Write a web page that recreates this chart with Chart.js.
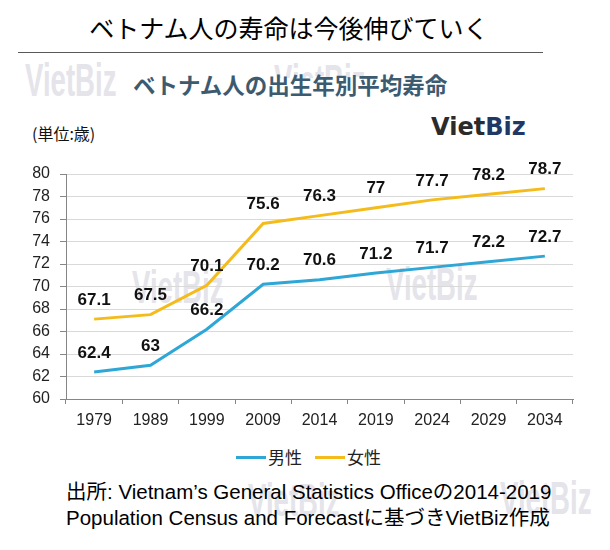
<!DOCTYPE html>
<html>
<head>
<meta charset="utf-8">
<script src="https://cdn.jsdelivr.net/npm/chart.js@4.4.1/dist/chart.umd.min.js"></script>
<style>
  body { margin: 0; background: #fff; }
  #wrap { position: relative; width: 610px; height: 550px; overflow: hidden; font-family: "Liberation Sans", "Noto Sans CJK JP", sans-serif; }
  .abs { position: absolute; white-space: nowrap; }
  .wm { position: absolute; font: bold 46px "Liberation Sans", Arial, sans-serif; color: #e4e4ea; transform: scaleX(0.6); transform-origin: 0 0; line-height: 1; white-space: nowrap; }
  #chart { position: absolute; left: 0; top: 140px; }
  #legend { position: absolute; top: 445px; left: 236px; display: flex; align-items: center; font: 17px "Noto Sans CJK JP", sans-serif; color: #222; line-height: 24px; }
  #legend .item { display: flex; align-items: center; margin-right: 13px; }
  #legend .swatch { width: 30px; height: 3px; margin-right: 2px; }
</style>
</head>
<body>
<div id="wrap">
  <!-- watermarks -->
  <div class="wm" style="left:25px; top:57px;">VietBiz</div>
  <div class="wm" style="left:274px; top:58px;">VietBiz</div>
  <div class="wm" style="left:132px; top:264px;">VietBiz</div>
  <div class="wm" style="left:386px; top:261px;">VietBiz</div>
  <div class="wm" style="left:248px; top:477px;">VietBiz</div>
  <div class="wm" style="left:500px; top:475px;">VietBiz</div>

  <div class="abs" style="left:0; width:578px; top:12px; text-align:center; font:25px 'Noto Sans CJK JP', sans-serif; line-height:30px; color:#000;">ベトナム人の寿命は今後伸びていく</div>
  <div class="abs" style="left:18px; top:52px; width:525px; height:1px; background:#595959;"></div>

  <div class="abs" style="left:120px; top:78px; width:350px; height:24px; background:#fff;"></div>
  <div class="abs" style="left:133px; top:70px; font:bold 22.5px 'Noto Sans CJK JP', sans-serif; line-height:28px; color:#3d5b70;">ベトナム人の出生年別平均寿命</div>

  <div class="abs" style="left:32px; top:122px; font:16px 'Noto Sans CJK JP', sans-serif; line-height:22px; color:#111;">(単位:歳)</div>
  <div class="abs" style="left:431px; top:113px; font:bold 24px 'DejaVu Sans', sans-serif; line-height:28px;"><span style="color:#2b2b2b">Viet</span><span style="color:#1f3864">Biz</span></div>

  <canvas id="chart" width="610" height="300"></canvas>
  <div id="legend"></div>

  <div class="abs" style="left:66px; top:479px; font:20.5px 'Liberation Sans', 'Noto Sans CJK JP', sans-serif; line-height:26px; color:#000;">出所: Vietnam’s General Statistics Officeの2014-2019<br>Population Census and Forecastに基づきVietBiz作成</div>
</div>

<script>
// データ
const years = ['1979', '1989', '1999', '2009', '2014', '2019', '2024', '2029', '2034'];
const male = [62.4, 63, 66.2, 70.2, 70.6, 71.2, 71.7, 72.2, 72.7];
const female = [67.1, 67.5, 70.1, 75.6, 76.3, 77, 77.7, 78.2, 78.7];
const yMin = 60, yMax = 80, yStep = 2;

// 値ラベル
const valueLabels = {
  id: 'valueLabels',
  afterDatasetsDraw(chart) {
    const ctx = chart.ctx;
    ctx.save();
    ctx.font = 'bold 17px "Liberation Sans", Arial, sans-serif';
    ctx.fillStyle = '#111';
    ctx.textAlign = 'center';
    ctx.textBaseline = 'middle';
    chart.data.datasets.forEach((ds, i) => {
      chart.getDatasetMeta(i).data.forEach((pt, j) => {
        ctx.fillText(String(ds.data[j]), pt.x, pt.y - 19);
      });
    });
    ctx.restore();
  }
};

const ctx = document.getElementById('chart').getContext('2d');
const chart = new Chart(ctx, {
  type: 'line',
  data: {
    labels: years,
    datasets: [
      { label: '男性', data: male, borderColor: '#2ea7d7', backgroundColor: '#2ea7d7' },
      { label: '女性', data: female, borderColor: '#f4bb1a', backgroundColor: '#f4bb1a' }
    ]
  },
  options: {
    responsive: false,
    devicePixelRatio: 1,
    animation: false,
    layout: { padding: { top: 34, right: 37, left: 0, bottom: 0 } },
    elements: {
      line: { borderWidth: 3, tension: 0 },
      point: { radius: 0 }
    },
    plugins: { legend: { display: false }, tooltip: { enabled: false } },
    scales: {
      x: {
        offset: true,
        grid: { drawOnChartArea: false, offset: true, tickLength: 5, tickColor: '#868686' },
        border: { color: '#868686' },
        ticks: { font: { family: '"Liberation Sans", Arial', size: 16 }, color: '#222', padding: 7, maxRotation: 0 },
        afterFit(s) { s.height = 41; }
      },
      y: {
        min: yMin, max: yMax,
        ticks: { stepSize: yStep, font: { family: '"Liberation Sans", Arial', size: 16 }, color: '#222', padding: 10 },
        grid: { color: '#d9d9d9', tickLength: 6, tickColor: '#868686' },
        border: { color: '#868686' },
        afterFit(s) { s.width = 66; }
      }
    }
  },
  plugins: [valueLabels]
});

// 凡例
const legend = document.getElementById('legend');
chart.data.datasets.forEach(ds => {
  const item = document.createElement('div');
  item.className = 'item';
  item.innerHTML = '<span class="swatch" style="background:' + ds.borderColor + '"></span>' + ds.label;
  legend.appendChild(item);
});
</script>
</body>
</html>
